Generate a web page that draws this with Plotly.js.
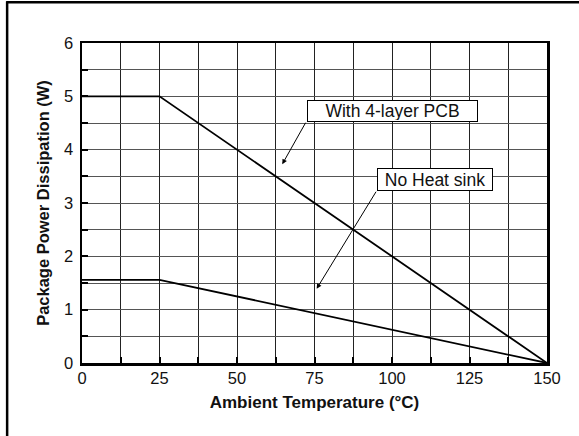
<!DOCTYPE html>
<html>
<head>
<meta charset="utf-8">
<script src="https://cdn.plot.ly/plotly-3.0.1.min.js"></script>
<style>html,body{margin:0;padding:0;background:#fff;}#chart{width:579px;height:436px;}</style>
</head>
<body>
<div id="chart"></div>
<script>
// Data
var tempPoints = [0, 25, 150];
var pcbPower = [5, 5, 0];
var noSinkPower = [1.56, 1.56, 0];
var xTickVals = [0, 25, 50, 75, 100, 125, 150];
var yTickVals = [0, 1, 2, 3, 4, 5, 6];
var labelPCB = "With 4-layer PCB";
var labelNoSink = "No Heat sink";
var xTitle = "Ambient Temperature (°C)";
var yTitle = "Package Power Dissipation (W)";

var font = "Liberation Sans, Arial, Helvetica, sans-serif";

var traces = [
  {x: tempPoints, y: pcbPower, mode: "lines", line: {color: "#000", width: 1.8}, hoverinfo: "none"},
  {x: tempPoints, y: noSinkPower, mode: "lines", line: {color: "#000", width: 1.8}, hoverinfo: "none"}
];

var layout = {
  width: 579, height: 436,
  margin: {l: 82, r: 32, t: 43, b: 73},
  paper_bgcolor: "#fff", plot_bgcolor: "#fff",
  showlegend: false,
  font: {family: font, color: "#111", size: 16},
  xaxis: {
    range: [0, 150], tickvals: xTickVals, ticktext: xTickVals.map(String),
    ticks: "inside", ticklen: 6, tickwidth: 2, tickcolor: "#000",
    showline: true, linewidth: 2.5, linecolor: "#000", mirror: true,
    showgrid: true, gridcolor: "#222", gridwidth: 1,
    minor: {dtick: 12.5, tick0: 0, ticks: "inside", ticklen: 6, tickwidth: 2, tickcolor: "#000", showgrid: true, gridcolor: "#222", gridwidth: 1},
    zeroline: false, fixedrange: true,
    tickfont: {size: 16.5, family: font, color: "#111"},
    ticklabelstandoff: -1,
    title: {text: xTitle, font: {size: 17, family: font, color: "#111", weight: "bold"}, standoff: 10}
  },
  yaxis: {
    range: [0, 6], tickvals: yTickVals, ticktext: yTickVals.map(String),
    ticks: "inside", ticklen: 6, tickwidth: 2, tickcolor: "#000",
    showline: true, linewidth: 2.5, linecolor: "#000", mirror: true,
    showgrid: true, gridcolor: "#555", gridwidth: 1,
    minor: {dtick: 0.5, tick0: 0, ticks: "inside", ticklen: 6, tickwidth: 2, tickcolor: "#000", showgrid: true, gridcolor: "#555", gridwidth: 1},
    zeroline: false, fixedrange: true,
    tickfont: {size: 16.5, family: font, color: "#111"},
    ticklabelstandoff: 3,
    title: {text: yTitle, font: {size: 16.5, family: font, color: "#111", weight: "bold"}, standoff: 10}
  },
  shapes: [
    {type: "line", xref: "paper", yref: "paper", x0: -0.163, x1: 1.08, y0: 1.127, y1: 1.127, line: {color: "#000", width: 2.5}},
    {type: "line", xref: "paper", yref: "paper", x0: -0.161, x1: -0.161, y0: 1.13, y1: -0.24, line: {color: "#000", width: 2.5}}
  ],
  annotations: [
    {x: 64.6, y: 3.727, xref: "x", yref: "y", text: "", showarrow: true, ax: 24.2, ay: -43, arrowhead: 2, arrowsize: 1, arrowwidth: 1, arrowcolor: "#000", font: {size: 1}},
    {x: 75.7, y: 1.393, xref: "x", yref: "y", text: "", showarrow: true, ax: 60.3, ay: -98.5, arrowhead: 2, arrowsize: 1, arrowwidth: 1, arrowcolor: "#000", font: {size: 1}},
    {x: 100.1, y: 4.734, xref: "x", yref: "y", text: labelPCB, showarrow: false, bgcolor: "#fff", bordercolor: "#000", borderwidth: 1, borderpad: 1, width: 167, height: 18, font: {size: 17.5, family: font, color: "#111"}},
    {x: 113.8, y: 3.45, xref: "x", yref: "y", text: labelNoSink, showarrow: false, bgcolor: "#fff", bordercolor: "#000", borderwidth: 1, borderpad: 1, width: 112, height: 19, font: {size: 17.5, family: font, color: "#111"}}
  ]
};

Plotly.newPlot("chart", traces, layout, {displayModeBar: false, staticPlot: true});
</script>
</body>
</html>
